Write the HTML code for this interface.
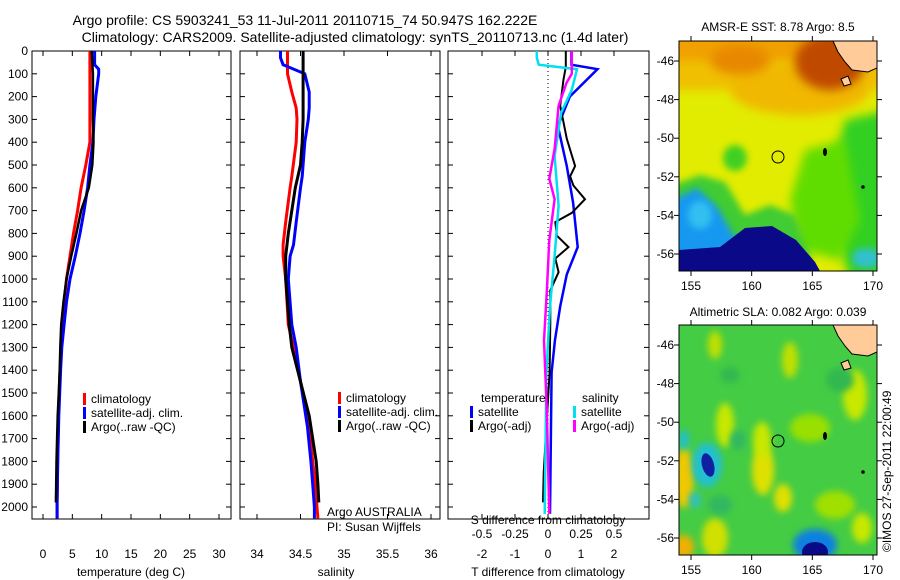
<!DOCTYPE html>
<html><head><meta charset="utf-8"><style>
body{margin:0;background:#fff;}
svg{display:block;font-family:"Liberation Sans",sans-serif;}
</style></head><body>
<svg id="c" width="900" height="580" viewBox="0 0 900 580">
<defs>
<filter id="bl" filterUnits="userSpaceOnUse" x="600" y="0" width="300" height="580"><feGaussianBlur stdDeviation="5"/></filter>
<filter id="bl2" filterUnits="userSpaceOnUse" x="600" y="0" width="300" height="580"><feGaussianBlur stdDeviation="3.5"/></filter>
<clipPath id="m1c"><rect x="679" y="41" width="198" height="230"/></clipPath>
<clipPath id="m2c"><rect x="679" y="325" width="198" height="230"/></clipPath>
</defs>
<text x="305" y="25" font-size="14" text-anchor="middle">Argo profile: CS 5903241_53 11-Jul-2011 20110715_74 50.947S 162.222E</text>
<text x="355" y="42" font-size="14" text-anchor="middle">Climatology: CARS2009. Satellite-adjusted climatology: synTS_20110713.nc (1.4d later)</text>

<g id="p1"></g>
<g id="p2"></g>
<g id="p3"></g>

<!-- Map 1 -->
<g>
<text x="778" y="31" font-size="12" text-anchor="middle">AMSR-E SST: 8.78 Argo: 8.5</text>
<g clip-path="url(#m1c)">
<rect x="679" y="41" width="198" height="230" fill="#e2ec00"/>
<rect x="660" y="20" width="240" height="55" fill="#f0a000" filter="url(#bl)"/>
<rect x="660" y="60" width="240" height="30" fill="#f0c000" filter="url(#bl)"/>
<ellipse cx="800" cy="90" rx="70" ry="25" fill="#f0b800" filter="url(#bl)"/>
<ellipse cx="830" cy="62" rx="35" ry="28" fill="#c04800" filter="url(#bl)"/>
<ellipse cx="740" cy="60" rx="30" ry="15" fill="#e88800" filter="url(#bl)"/>
<polygon points="845,120 890,110 890,280 850,280 825,200" fill="#30d020" filter="url(#bl)"/>
<polygon points="805,150 845,140 860,220 840,260 800,250 790,200" fill="#60dd00" filter="url(#bl)"/>
<ellipse cx="735" cy="158" rx="12" ry="13" fill="#40d020" filter="url(#bl2)"/>
<polygon points="672,185 700,175 725,182 745,215 770,205 795,215 810,255 810,280 672,280" fill="#40cc30" filter="url(#bl2)"/>
<polygon points="672,200 697,188 718,208 735,238 775,238 805,262 672,280" fill="#1898f0" filter="url(#bl2)"/>
<ellipse cx="700" cy="215" rx="12" ry="14" fill="#30c0f0" filter="url(#bl2)"/>
<ellipse cx="866" cy="258" rx="14" ry="10" fill="#30c0d0" filter="url(#bl2)"/>
<polygon points="679,250 720,247 745,228 772,226 796,240 815,262 820,271 679,271" fill="#0a0a88"/>
<polygon points="833,41 877,41 877,68 868,72 852,70 845,62 838,52" fill="#ffcc99" stroke="#000" stroke-width="1"/>
<polygon points="841,79 848,76 851,84 844,86" fill="#ffcc99" stroke="#000"/>
<ellipse cx="825" cy="152" rx="2" ry="4" fill="#000"/>
<circle cx="863" cy="187" r="1.8" fill="#000"/>
<circle cx="778" cy="157" r="6" fill="none" stroke="#000" stroke-width="1"/>
</g>
<rect x="679" y="41" width="198" height="230" fill="none" stroke="#000"/>
</g>

<!-- Map 2 -->
<g>
<text x="778" y="316" font-size="12" text-anchor="middle">Altimetric SLA: 0.082 Argo: 0.039</text>
<g clip-path="url(#m2c)">
<rect x="679" y="325" width="198" height="230" fill="#44cc44"/>
<g>
<ellipse cx="725" cy="425" rx="9" ry="22" fill="#c8e800" filter="url(#bl2)"/>
<ellipse cx="763" cy="470" rx="11" ry="25" fill="#e0e000" filter="url(#bl2)"/>
<ellipse cx="762" cy="440" rx="9" ry="18" fill="#c8e800" filter="url(#bl2)"/>
<ellipse cx="783" cy="498" rx="9" ry="14" fill="#e0e000" filter="url(#bl2)"/>
<ellipse cx="715" cy="538" rx="13" ry="20" fill="#d0e000" filter="url(#bl2)"/>
<ellipse cx="684" cy="478" rx="10" ry="30" fill="#f0c800" filter="url(#bl2)"/>
<ellipse cx="684" cy="547" rx="10" ry="12" fill="#f0b000" filter="url(#bl2)"/>
<ellipse cx="855" cy="395" rx="12" ry="25" fill="#c8e800" filter="url(#bl2)"/>
<ellipse cx="810" cy="428" rx="20" ry="14" fill="#99e000" filter="url(#bl2)"/>
<ellipse cx="835" cy="505" rx="20" ry="14" fill="#a0e000" filter="url(#bl2)"/>
<ellipse cx="862" cy="528" rx="10" ry="15" fill="#c8e800" filter="url(#bl2)"/>
<ellipse cx="715" cy="345" rx="7" ry="14" fill="#c0e000" filter="url(#bl2)"/>
<ellipse cx="790" cy="360" rx="8" ry="18" fill="#c0e000" filter="url(#bl2)"/>
<ellipse cx="730" cy="375" rx="10" ry="8" fill="#30b850" filter="url(#bl2)"/>
<ellipse cx="840" cy="380" rx="14" ry="12" fill="#30b850" filter="url(#bl2)"/>
<ellipse cx="720" cy="505" rx="12" ry="10" fill="#30b860" filter="url(#bl2)"/>
<ellipse cx="738" cy="440" rx="8" ry="10" fill="#30b860" filter="url(#bl2)"/>
<ellipse cx="707" cy="465" rx="15" ry="22" fill="#20c0d0" filter="url(#bl2)"/>
<ellipse cx="684" cy="440" rx="5" ry="10" fill="#20c0d0" filter="url(#bl2)"/>
<ellipse cx="695" cy="500" rx="6" ry="8" fill="#30c0c0" filter="url(#bl2)"/>
<ellipse cx="815" cy="545" rx="22" ry="16" fill="#1080e0" filter="url(#bl2)"/>
</g>
<ellipse cx="708" cy="465" rx="6" ry="12" fill="#1020a0" transform="rotate(-15 708 465)"/>
<ellipse cx="815" cy="552" rx="13" ry="10" fill="#0a0a88"/>
<polygon points="833,325 877,325 877,352 868,356 852,354 845,346 838,336" fill="#ffcc99" stroke="#000"/>
<polygon points="841,363 848,360 851,368 844,370" fill="#ffcc99" stroke="#000"/>
<ellipse cx="825" cy="436" rx="2" ry="4" fill="#000"/>
<circle cx="863" cy="472" r="1.8" fill="#000"/>
<circle cx="778" cy="441" r="6" fill="none" stroke="#000" stroke-width="1"/>
</g>
<rect x="679" y="325" width="198" height="230" fill="none" stroke="#000"/>
</g>
<text transform="translate(891,552) rotate(-90)" font-size="12">©IMOS 27-Sep-2011 22:00:49</text>
<g id="maxes"></g>
</svg>
<script>
// ---- data ----
const tDepths = [0,60,80,100,200,300,400,500,600,700,800,900,1000,1100,1200,1300,1400,1500,1600,1700,1800,1900,1980,2050];
const tempClim = [8.0,8.0,8.0,8.0,8.0,8.0,8.0,7.3,6.5,5.9,5.2,4.6,4.0,3.6,3.3,3.1,2.9,2.75,2.6,2.55,2.5,2.45,2.4,2.4];
const tempSat  = [8.8,8.8,9.5,9.5,9.0,8.7,8.5,8.0,7.6,7.0,6.3,5.5,4.6,4.0,3.6,3.2,3.0,2.85,2.7,2.6,2.5,2.45,2.4,2.4];
const tDepthsArgo = [0,100,200,300,400,500,600,700,800,900,1000,1100,1200,1300,1400,1500,1600,1700,1800,1900,1980];
const tempArgo = [8.3,8.5,8.5,8.5,8.6,8.4,7.8,6.5,5.7,4.8,4.0,3.5,3.1,2.95,2.85,2.7,2.5,2.4,2.3,2.25,2.2];

const sDepths = [0,30,60,100,180,250,300,400,550,600,750,850,900,1000,1200,1300,1450,1650,1800,1900,2000,2050];
const salClim = [34.35,34.35,34.35,34.35,34.40,34.45,34.46,34.45,34.40,34.38,34.33,34.30,34.30,34.33,34.36,34.42,34.50,34.60,34.64,34.67,34.69,34.70];
const salSat  = [34.27,34.27,34.30,34.55,34.60,34.60,34.59,34.55,34.52,34.50,34.45,34.42,34.38,34.36,34.40,34.45,34.50,34.58,34.62,34.64,34.66,34.66];
const sDepthsArgo = [0,100,200,300,400,500,600,700,800,900,1000,1100,1200,1300,1450,1600,1700,1800,1900,1980];
const salArgo = [34.53,34.53,34.53,34.53,34.52,34.50,34.44,34.40,34.36,34.33,34.33,34.35,34.37,34.40,34.50,34.60,34.64,34.68,34.70,34.71];

const dDepthsT = [0,60,80,200,330,505,665,860,980,1120,1270,1410,2030];
const tDiffSat = [0.71,0.71,1.5,0.66,0.3,0.57,0.76,0.9,0.57,0.37,0.21,0.11,0.06];
const dDepthsTA = [0,70,125,240,385,505,550,590,650,710,750,810,860,910,970,1050,1195,1410,1850,1980];
const tDiffArgo = [0.54,0.54,0.47,0.37,0.57,0.82,0.67,0.77,1.12,0.72,0.22,0.27,0.62,0.22,0.32,0.07,0.07,0.05,-0.13,-0.15];
const dDepthsS = [0,30,60,80,170,270,460,680,900,1120,1410,2030];
const sDiffSat = [-0.085,-0.085,-0.07,0.22,0.18,0.10,0.05,0.08,0.05,0.015,-0.012,-0.025];
const dDepthsSA = [0,100,140,240,430,560,650,830,1065,1270,1560,2030];
const sDiffArgo = [0.18,0.18,0.14,0.08,0.05,0.01,0.05,0.01,-0.01,-0.03,-0.01,0.01];

const depthTicks = [0,100,200,300,400,500,600,700,800,900,1000,1100,1200,1300,1400,1500,1600,1700,1800,1900,2000];
const tempTicks = [0,5,10,15,20,25,30];
const salTicks = [34,34.5,35,35.5,36];
const tDiffTicks = [-2,-1,0,1,2];
const sDiffTicks = [-0.5,-0.25,0,0.25,0.5];
const lonTicks = [155,160,165,170];
const latTicks = [46,48,50,52,54,56];

// ---- helpers ----
const NS = 'http://www.w3.org/2000/svg';
const Y0 = 51, Y1 = 519;
const yD = d => Y0 + d * 0.228;
function lin(d0,d1,r0,r1){return v => r0 + (v-d0)*(r1-r0)/(d1-d0);}
function mk(parent, tag, attrs){const e=document.createElementNS(NS,tag);for(const k in attrs)e.setAttribute(k,attrs[k]);parent.appendChild(e);return e;}
function line(parent, depths, vals, xs, color, w, name){
  const pts = depths.map((d,i)=>xs(vals[i]).toFixed(1)+','+yD(d).toFixed(1)).join(' ');
  const p = mk(parent,'polyline',{points:pts,fill:'none',stroke:color,'stroke-width':w,'stroke-linejoin':'miter'});
  
  
}
function frame(g,x0,x1,name){
  const r = mk(g,'rect',{x:x0,y:Y0,width:x1-x0,height:Y1-Y0,fill:'none',stroke:'#000','stroke-width':1});
  
  
}
function xTicks(g,ticks,xs,y,labelY,fmt,name){
  ticks.forEach(t=>{
    const x = xs(t);
    if(y!==null){mk(g,'line',{x1:x,x2:x,y1:Y1,y2:Y1-5,stroke:'#000'});mk(g,'line',{x1:x,x2:x,y1:Y0,y2:Y0+5,stroke:'#000'});}
    const tx = mk(g,'text',{x:x,y:labelY,'font-size':12,'text-anchor':'middle'});
    tx.textContent = fmt(t);
    
    
  });
}
function yTicks(g,x0,x1,labels){
  depthTicks.forEach(d=>{
    const y=yD(d);
    mk(g,'line',{x1:x0,x2:x0+5,y1:y,y2:y,stroke:'#000'});
    mk(g,'line',{x1:x1,x2:x1-5,y1:y,y2:y,stroke:'#000'});
    if(labels){const t=mk(g,'text',{x:28,y:y+4,'font-size':12,'text-anchor':'end'});t.textContent=d;
      
      }
  });
}
function legend(g,x,y,items){
  items.forEach((it,i)=>{
    mk(g,'rect',{x:x,y:y+i*14-10,width:3,height:12,fill:it[1]});
    const t=mk(g,'text',{x:x+8,y:y+i*14,'font-size':12});t.textContent=it[0];
    
    
  });
}

// ---- panel 1: temperature ----
{
  const g=document.getElementById('p1');
  const xs=lin(0,30,43,219);
  frame(g,32,231,'temperature-axes');
  yTicks(g,32,231,true);
  xTicks(g,tempTicks,xs,true,558,t=>t,'temperature-tick-label');
  const t=mk(g,'text',{x:131,y:576,'font-size':12,'text-anchor':'middle'});t.textContent='temperature (deg C)';
  
  
  line(g,tDepths,tempClim,xs,'#ff0000',3,'temp-climatology-line');
  line(g,tDepths,tempSat,xs,'#0000ff',3,'temp-satellite-line');
  line(g,tDepthsArgo,tempArgo,xs,'#000000',2.5,'temp-argo-line');
  legend(g,83,403,[['climatology','#ff0000'],['satellite-adj. clim.','#0000ff'],['Argo(..raw -QC)','#000']]);
}
// ---- panel 2: salinity ----
{
  const g=document.getElementById('p2');
  const xs=lin(34,36,257,431);
  frame(g,240,440,'salinity-axes');
  yTicks(g,240,440,false);
  xTicks(g,salTicks,xs,true,558,t=>t,'salinity-tick-label');
  const t=mk(g,'text',{x:336,y:576,'font-size':12,'text-anchor':'middle'});t.textContent='salinity';
  
  
  line(g,sDepths,salClim,xs,'#ff0000',3,'sal-climatology-line');
  line(g,sDepths,salSat,xs,'#0000ff',3,'sal-satellite-line');
  line(g,sDepthsArgo,salArgo,xs,'#000000',3,'sal-argo-line');
  legend(g,338,402,[['climatology','#ff0000'],['satellite-adj. clim.','#0000ff'],['Argo(..raw -QC)','#000']]);
  const a=mk(g,'text',{x:327,y:516,'font-size':12});a.textContent='Argo AUSTRALIA';
   
  const b=mk(g,'text',{x:327,y:531,'font-size':12});b.textContent='PI: Susan Wijffels';
   
}
// ---- panel 3: differences ----
{
  const g=document.getElementById('p3');
  const xt=lin(0,2,548,614);
  const xsd=v=>xt(v*4);
  frame(g,448,649,'difference-axes');
  yTicks(g,448,649,false);
  mk(g,'line',{x1:xt(0),x2:xt(0),y1:Y0,y2:Y1,stroke:'#000','stroke-dasharray':'1,3'});
  xTicks(g,tDiffTicks,xt,true,558,t=>t,'t-diff-tick-label');
  xTicks(g,sDiffTicks,xsd,null,538,t=>String(t),'s-diff-tick-label');
  const s=mk(g,'text',{x:548,y:524,'font-size':12,'text-anchor':'middle'});s.textContent='S difference from climatology';
   
  const t=mk(g,'text',{x:548,y:576,'font-size':12,'text-anchor':'middle'});t.textContent='T difference from climatology';
   
  line(g,dDepthsT,tDiffSat,xt,'#0000ff',2.5,'t-diff-satellite-line');
  line(g,dDepthsTA,tDiffArgo,xt,'#000000',2,'t-diff-argo-line');
  line(g,dDepthsS,sDiffSat,xsd,'#00e0f0',2.5,'s-diff-satellite-line');
  line(g,dDepthsSA,sDiffArgo,xsd,'#ff00ff',2.5,'s-diff-argo-line');
  const h1=mk(g,'text',{x:481,y:402,'font-size':12});h1.textContent='temperature';
   
  const h2=mk(g,'text',{x:582,y:402,'font-size':12});h2.textContent='salinity';
   
  legend(g,470,416,[['satellite','#0000ff'],['Argo(-adj)','#000']]);
  legend(g,573,416,[['satellite','#00e0f0'],['Argo(-adj)','#ff00ff']]);
}
// ---- map axes ----
{
  const g=document.getElementById('maxes');
  const xl=lin(155,170,691,873);
  [[41,271,61],[325,555,345]].forEach(([top,bot,y46])=>{
    const yl=lin(46,56,y46,y46+193);
    lonTicks.forEach(v=>{
      const x=xl(v);
      mk(g,'line',{x1:x,x2:x,y1:bot,y2:bot+5,stroke:'#000'});
      mk(g,'line',{x1:x,x2:x,y1:top,y2:top-5,stroke:'#000'});
      const t=mk(g,'text',{x:x,y:bot+19,'font-size':12,'text-anchor':'middle'});t.textContent=v;
      
      
    });
    latTicks.forEach(v=>{
      const y=yl(v);
      mk(g,'line',{x1:679,x2:674,y1:y,y2:y,stroke:'#000'});
      mk(g,'line',{x1:877,x2:882,y1:y,y2:y,stroke:'#000'});
      const t=mk(g,'text',{x:674,y:y+4,'font-size':12,'text-anchor':'end'});t.textContent='-'+v;
      
      
    });
  });
}
</script>
</body></html>
